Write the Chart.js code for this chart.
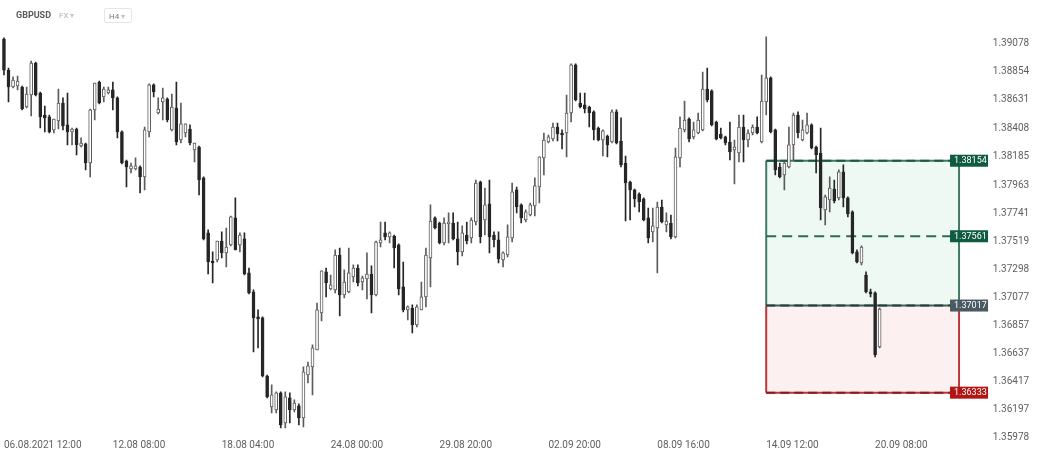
<!DOCTYPE html>
<html lang="en">
<head>
<meta charset="UTF-8">
<title>GBPUSD H4</title>
<style>
    body { margin: 0; background: #ffffff; font-family: Roboto, sans-serif; }
    #wrap { position: relative; width: 1042px; height: 458px; overflow: hidden; }
    #chart { position: absolute; left: 0; top: 0; }
    .hdr { position: absolute; z-index: 2; white-space: nowrap; }
    .sym { left: 16px; top: 10px; font-size: 9px; font-weight: bold; color: #5a5a5a; }
    .fx { left: 59px; top: 11px; font-size: 8px; color: #b0b0b0; }
    .caret { font-size: 8px; color: #c4c4c4; }
    .tf { left: 104px; top: 8px; width: 26px; height: 15px; border: 1px solid #e4e4e4; border-radius: 2px; font-size: 8px; color: #777; line-height: 15px; padding-left: 4px; box-sizing: border-box; width: 28px; }
</style>
<script src="https://cdn.jsdelivr.net/npm/chart.js"></script>
</head>
<body>
<div id="wrap">
    <div class="hdr sym">GBPUSD</div>
    <div class="hdr fx">FX <span class="caret">&#9662;</span></div>
    <div class="hdr tf">H4 <span class="caret">&#9662;</span></div>
    <canvas id="chart" width="1042" height="458"></canvas>
</div>
<script>
// GBPUSD H4 candles
const opens = [
    1.39110,1.38866,1.38733,1.38741,1.38733,1.38576,1.38670,1.38921,1.38686,1.38513,
    1.38498,1.38396,1.38466,1.38607,1.38435,1.38380,1.38403,1.38270,1.38286,1.38136,
    1.38553,1.38772,1.38655,1.38686,1.38710,1.38647,1.38380,1.38152,1.38089,1.38089,
    1.38105,1.38027,1.38380,1.38749,1.38529,1.38615,1.38639,1.38396,1.38568,1.38317,
    1.38372,1.38403,1.38239,1.38262,1.38019,1.37587,1.37367,1.37375,1.37524,1.37430,
    1.37493,1.37705,1.37493,1.37540,1.37273,1.37124,1.36928,1.36920,1.36464,1.36221,
    1.36198,1.36331,1.36095,1.36292,1.36198,1.36229,1.36135,1.36472,1.36535,1.36668,
    1.36959,1.37281,1.37147,1.37140,1.37414,1.37100,1.37124,1.37242,1.37312,1.37202,
    1.37226,1.37265,1.37100,1.37508,1.37587,1.37556,1.37563,1.37493,1.37163,1.36983,
    1.36998,1.36865,1.36983,1.37085,1.37391,1.37705,1.37665,1.37508,1.37658,1.37665,
    1.37540,1.37438,1.37571,1.37548,1.37673,1.37987,1.37689,1.37815,1.37571,1.37532,
    1.37375,1.37414,1.37548,1.37925,1.37807,1.37689,1.37728,1.37799,1.37948,1.38176,
    1.38301,1.38325,1.38419,1.38372,1.38372,1.38529,1.38906,1.38607,1.38592,1.38576,
    1.38537,1.38411,1.38317,1.38348,1.38301,1.38537,1.38309,1.38136,1.37987,1.37925,
    1.37893,1.37854,1.37705,1.37595,1.37626,1.37791,1.37650,1.37665,1.37556,1.38176,
    1.38396,1.38482,1.38341,1.38372,1.38396,1.38717,1.38702,1.38458,1.38364,1.38341,
    1.38301,1.38239,1.38215,1.38419,1.38317,1.38372,1.38419,1.38301,1.38615,1.38804,
    1.38396,1.38105,1.38042,1.38105,1.38278,1.38513,1.38317,1.38372,1.38435,1.38262,
    1.38215,1.37768,1.37846,1.37932,1.37862,1.38066,1.37862,1.37752,1.37438,1.37351,
    1.37257,1.37124,1.37116,1.36692
];
const highs = [
    1.39118,1.38882,1.38812,1.38819,1.38741,1.38733,1.38937,1.38929,1.38694,1.38584,
    1.38513,1.38482,1.38717,1.38647,1.38686,1.38411,1.38411,1.38333,1.38293,1.38560,
    1.38764,1.38780,1.38733,1.38733,1.38772,1.38655,1.38388,1.38160,1.38136,1.38176,
    1.38113,1.38419,1.38757,1.38757,1.38647,1.38725,1.38647,1.38678,1.38772,1.38607,
    1.38443,1.38435,1.38293,1.38270,1.38027,1.37611,1.37438,1.37524,1.37595,1.37626,
    1.37720,1.37862,1.37587,1.37587,1.37312,1.37140,1.36983,1.36928,1.36472,1.36394,
    1.36339,1.36339,1.36339,1.36331,1.36276,1.36245,1.36535,1.36574,1.36708,1.37037,
    1.37289,1.37312,1.37257,1.37454,1.37469,1.37297,1.37469,1.37336,1.37336,1.37249,
    1.37430,1.37328,1.37524,1.37673,1.37673,1.37595,1.37571,1.37501,1.37359,1.37014,
    1.37022,1.37022,1.37202,1.37469,1.37807,1.37713,1.37673,1.37705,1.37744,1.37744,
    1.37673,1.37642,1.37673,1.37705,1.38003,1.37995,1.37940,1.38003,1.37595,1.37595,
    1.37438,1.37650,1.37979,1.37948,1.37815,1.37768,1.37822,1.38019,1.38184,1.38372,
    1.38356,1.38450,1.38450,1.38396,1.38670,1.38914,1.38914,1.38686,1.38686,1.38584,
    1.38545,1.38419,1.38396,1.38356,1.38553,1.38553,1.38490,1.38191,1.37995,1.37932,
    1.37901,1.37862,1.37783,1.37783,1.37830,1.37846,1.37744,1.37728,1.38254,1.38498,
    1.38623,1.38490,1.38458,1.38529,1.38851,1.38882,1.38710,1.38466,1.38411,1.38348,
    1.38458,1.38317,1.38513,1.38513,1.38396,1.38435,1.38498,1.38827,1.39126,1.38812,
    1.38403,1.38136,1.38144,1.38419,1.38529,1.38537,1.38474,1.38529,1.38443,1.38270,
    1.38411,1.37885,1.38027,1.38003,1.38082,1.38121,1.37870,1.37760,1.37454,1.37485,
    1.37281,1.37147,1.37124,1.36998
];
const lows = [
    1.38827,1.38615,1.38725,1.38710,1.38553,1.38568,1.38505,1.38662,1.38411,1.38380,
    1.38372,1.38372,1.38403,1.38396,1.38278,1.38278,1.38199,1.38262,1.38082,1.38027,
    1.38474,1.38600,1.38615,1.38678,1.38553,1.38333,1.38129,1.37948,1.38058,1.38082,
    1.37901,1.37925,1.38341,1.38655,1.38521,1.38474,1.38458,1.38388,1.38278,1.38293,
    1.38341,1.38278,1.38144,1.37885,1.37532,1.37265,1.37194,1.37359,1.37391,1.37320,
    1.37485,1.37454,1.37438,1.37257,1.37108,1.36653,1.36684,1.36457,1.36292,1.36174,
    1.36174,1.36056,1.36056,1.36095,1.36182,1.36080,1.36064,1.36409,1.36315,1.36668,
    1.36896,1.37085,1.37140,1.37116,1.36935,1.37077,1.37116,1.37202,1.37171,1.37140,
    1.37069,1.36959,1.37092,1.37477,1.37532,1.37508,1.37312,1.37100,1.36967,1.36904,
    1.36802,1.36849,1.36983,1.37006,1.37163,1.37618,1.37501,1.37493,1.37508,1.37532,
    1.37336,1.37406,1.37501,1.37508,1.37650,1.37508,1.37571,1.37430,1.37477,1.37351,
    1.37320,1.37399,1.37516,1.37744,1.37665,1.37673,1.37720,1.37720,1.37822,1.38042,
    1.38293,1.38309,1.38309,1.38246,1.38184,1.38458,1.38623,1.38568,1.38529,1.38419,
    1.38317,1.38309,1.38191,1.38184,1.38293,1.38286,1.38105,1.37681,1.37689,1.37791,
    1.37752,1.37681,1.37508,1.37516,1.37273,1.37665,1.37595,1.37540,1.37548,1.38105,
    1.38380,1.38301,1.38325,1.38364,1.38388,1.38615,1.38427,1.38317,1.38325,1.38278,
    1.38160,1.37972,1.38144,1.38144,1.38262,1.38356,1.38364,1.38293,1.38513,1.38372,
    1.38042,1.38019,1.37925,1.38097,1.38160,1.38333,1.38309,1.38364,1.38246,1.38058,
    1.37689,1.37650,1.37752,1.37822,1.37846,1.37791,1.37713,1.37422,1.37351,1.37336,
    1.37116,1.37085,1.36614,1.36684
];
const closes = [
    1.38866,1.38733,1.38788,1.38780,1.38560,1.38678,1.38921,1.38670,1.38498,1.38490,
    1.38380,1.38482,1.38607,1.38427,1.38380,1.38403,1.38278,1.38293,1.38136,1.38553,
    1.38764,1.38607,1.38717,1.38710,1.38647,1.38380,1.38136,1.38105,1.38113,1.38113,
    1.38027,1.38396,1.38749,1.38694,1.38560,1.38647,1.38474,1.38576,1.38301,1.38443,
    1.38443,1.38293,1.38293,1.38003,1.37540,1.37359,1.37351,1.37524,1.37430,1.37477,
    1.37713,1.37454,1.37571,1.37265,1.37116,1.36920,1.36912,1.36464,1.36300,1.36315,
    1.36331,1.36080,1.36300,1.36198,1.36252,1.36135,1.36496,1.36543,1.36684,1.36983,
    1.37289,1.37194,1.37179,1.37414,1.37100,1.37202,1.37273,1.37312,1.37194,1.37234,
    1.37265,1.37100,1.37516,1.37532,1.37556,1.37587,1.37469,1.37147,1.36983,1.37006,
    1.36865,1.37006,1.37085,1.37414,1.37681,1.37626,1.37508,1.37665,1.37673,1.37540,
    1.37438,1.37587,1.37524,1.37689,1.37979,1.37556,1.37807,1.37556,1.37532,1.37383,
    1.37430,1.37556,1.37909,1.37791,1.37705,1.37752,1.37807,1.37956,1.38184,1.38317,
    1.38341,1.38419,1.38364,1.38356,1.38529,1.38906,1.38631,1.38576,1.38560,1.38529,
    1.38396,1.38317,1.38388,1.38278,1.38537,1.38293,1.38121,1.37979,1.37925,1.37854,
    1.37830,1.37689,1.37548,1.37642,1.37791,1.37673,1.37681,1.37556,1.38184,1.38411,
    1.38474,1.38325,1.38396,1.38474,1.38717,1.38631,1.38435,1.38325,1.38333,1.38293,
    1.38223,1.38262,1.38419,1.38317,1.38372,1.38419,1.38372,1.38623,1.38804,1.38380,
    1.38082,1.38027,1.38136,1.38278,1.38513,1.38372,1.38396,1.38435,1.38254,1.38199,
    1.37783,1.37870,1.37940,1.37838,1.38066,1.37862,1.37736,1.37430,1.37359,1.37477,
    1.37124,1.37108,1.36629,1.36990
];

// x slots: one per H4 bar, with empty room on the right
const slotCount = 218;
const tickIndex = [0, 24, 48, 72, 96, 120, 144, 168, 192];
const tickText = ['06.08.2021 12:00', '12.08 08:00', '18.08 04:00', '24.08 00:00', '29.08 20:00',
                  '02.09 20:00', '08.09 16:00', '14.09 12:00', '20.09 08:00'];
const priceTicks = [1.39078, 1.38854, 1.38631, 1.38408, 1.38185, 1.37963, 1.37741, 1.37519,
                    1.37298, 1.37077, 1.36857, 1.36637, 1.36417, 1.36197, 1.35978];

// long position tool
const tpPrice = 1.38154;
const midPrice = 1.37561;
const entryPrice = 1.37017;
const slPrice = 1.36333;
const boxFrom = 168;
const boxTo = 210.5;

const slots = Array.from({ length: slotCount }, (_, i) => i);
const wicks = lows.map((l, i) => [l, highs[i]]);
const bodies = opens.map((o, i) => [o, closes[i]]);
const isUp = opens.map((o, i) => closes[i] >= o);
const bodyFill = isUp.map(up => up ? '#ffffff' : '#262626');
const edge = isUp.map(up => up ? '#5c5c5c' : '#262626');

function hline(ctx, x0, x1, y, color, width, dash) {
    ctx.beginPath();
    ctx.setLineDash(dash || []);
    ctx.strokeStyle = color;
    ctx.lineWidth = width;
    ctx.moveTo(x0, y);
    ctx.lineTo(x1, y);
    ctx.stroke();
}

function vline(ctx, x, y0, y1, color) {
    ctx.beginPath();
    ctx.setLineDash([]);
    ctx.strokeStyle = color;
    ctx.lineWidth = 2;
    ctx.moveTo(x, y0);
    ctx.lineTo(x, y1);
    ctx.stroke();
}

function tag(ctx, x, y, text, bg) {
    ctx.fillStyle = bg;
    ctx.fillRect(x, y - 6, 38, 12);
    ctx.fillStyle = '#ffffff';
    ctx.font = '9px Roboto';
    ctx.textBaseline = 'middle';
    ctx.textAlign = 'left';
    ctx.fillText(text, x + 4, y + 0.5);
}

const positionBox = {
    id: 'positionBox',
    beforeDatasetsDraw(chart) {
        const { ctx, scales: { x, y } } = chart;
        const x0 = x.getPixelForValue(boxFrom);
        const x1 = x.getPixelForValue(boxTo);
        const yTp = y.getPixelForValue(tpPrice);
        const yMid = y.getPixelForValue(midPrice);
        const yEn = y.getPixelForValue(entryPrice);
        const ySl = y.getPixelForValue(slPrice);
        ctx.save();
        ctx.fillStyle = '#eef9f4';
        ctx.fillRect(x0, yTp, x1 - x0, yEn - yTp);
        ctx.fillStyle = '#fdf0f0';
        ctx.fillRect(x0, yEn, x1 - x0, ySl - yEn);
        vline(ctx, x0, yTp, yEn, '#3f7a68');
        vline(ctx, x1, yTp, yEn, '#3f7a68');
        vline(ctx, x0, yEn, ySl, '#b8383a');
        vline(ctx, x1, yEn, ySl, '#b8383a');
        hline(ctx, x0, x1, yTp, '#3f7a68', 2);
        hline(ctx, x0, x1, yTp, '#1c5644', 2, [9, 5]);
        hline(ctx, x0, x1, yMid, '#2f6a57', 2, [10, 6]);
        hline(ctx, x0, x1, yEn, '#3d5f57', 2);
        hline(ctx, x0, x1, yEn, '#26403b', 2, [9, 5]);
        hline(ctx, x0, x1, ySl, '#b8383a', 2);
        hline(ctx, x0, x1, ySl, '#8a1a1c', 2, [9, 5]);
        ctx.restore();
    },
    afterDatasetsDraw(chart) {
        const { ctx, scales: { x, y } } = chart;
        const tx = x.getPixelForValue(boxTo) - 9;
        ctx.save();
        tag(ctx, tx, y.getPixelForValue(tpPrice), tpPrice.toFixed(5), '#0e5b41');
        tag(ctx, tx, y.getPixelForValue(midPrice), midPrice.toFixed(5), '#0e5b41');
        tag(ctx, tx, y.getPixelForValue(entryPrice), entryPrice.toFixed(5), '#4b5a62');
        tag(ctx, tx, y.getPixelForValue(slPrice), slPrice.toFixed(5), '#b31414');
        ctx.restore();
    }
};

const labelAt = {};
tickIndex.forEach((v, i) => { labelAt[v] = tickText[i]; });

new Chart(document.getElementById('chart').getContext('2d'), {
    type: 'bar',
    data: {
        labels: slots,
        datasets: [{
            label: 'body',
            data: bodies,
            backgroundColor: bodyFill,
            borderColor: edge,
            borderWidth: 1,
            borderSkipped: false,
            barThickness: 3,
            grouped: false,
            order: 0
        }, {
            label: 'wick',
            data: wicks,
            backgroundColor: edge,
            borderWidth: 0,
            barThickness: 1,
            grouped: false,
            order: 1
        }]
    },
    options: {
        responsive: false,
        animation: false,
        devicePixelRatio: 1,
        layout: { padding: { left: 1.7, right: 0, top: 0, bottom: 0 } },
        plugins: {
            legend: { display: false },
            tooltip: { enabled: false },
            title: { display: false }
        },
        scales: {
            x: {
                type: 'category',
                offset: true,
                grid: { display: false, drawTicks: false },
                border: { display: false },
                ticks: {
                    autoSkip: false,
                    maxRotation: 0,
                    align: 'start',
                    padding: 1,
                    color: '#5f5f5f',
                    font: { family: 'Roboto', size: 10 },
                    callback: v => labelAt[v] || ''
                },
                afterBuildTicks: s => { s.ticks = tickIndex.map(v => ({ value: v })); },
                afterFit: s => { s.height = 20; s.paddingLeft = 0; s.paddingRight = 0; }
            },
            y: {
                type: 'linear',
                position: 'right',
                min: 1.35977,
                max: 1.39416,
                grid: { display: false, drawTicks: false },
                border: { display: false },
                ticks: {
                    padding: 2,
                    color: '#5f5f5f',
                    font: { family: 'Roboto', size: 10 },
                    callback: v => Number(v).toFixed(5)
                },
                afterBuildTicks: s => { s.ticks = priceTicks.map(v => ({ value: v })); },
                afterFit: s => { s.width = 51.2; s.paddingTop = 0; s.paddingBottom = 0; }
            }
        }
    },
    plugins: [positionBox]
});
</script>
</body>
</html>
